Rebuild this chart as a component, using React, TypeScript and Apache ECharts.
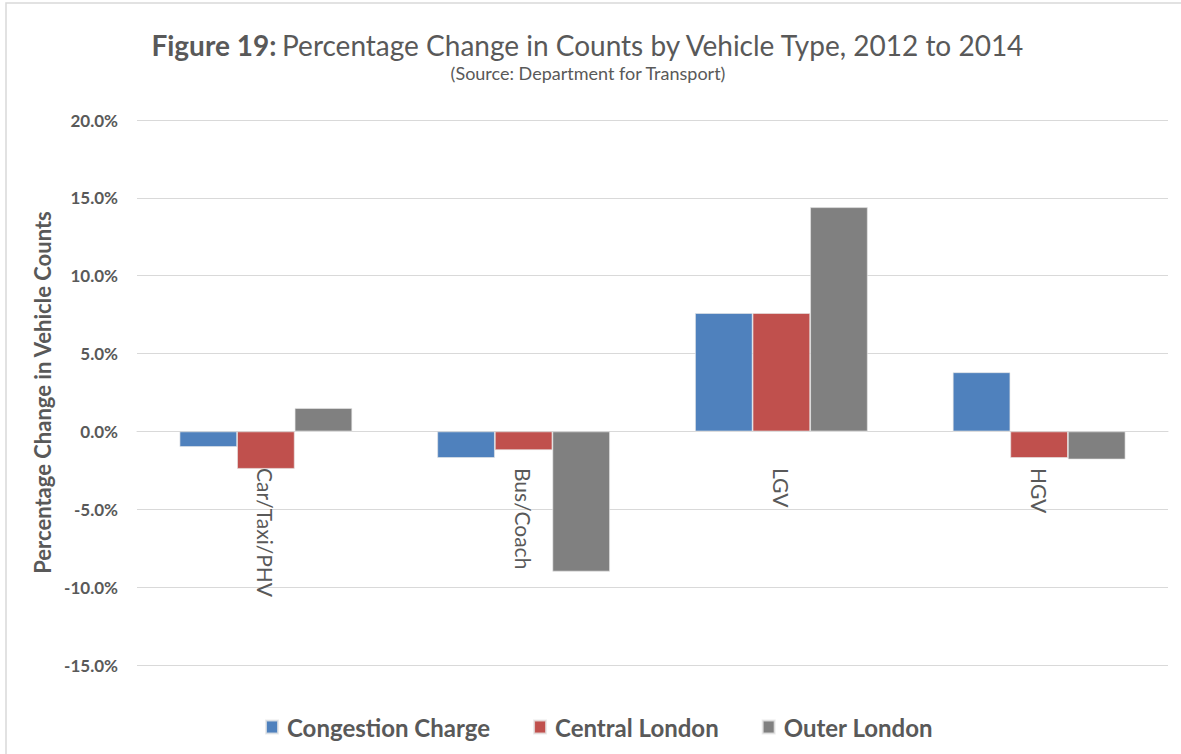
import React, { useEffect, useRef } from "react";
import * as echarts from "echarts";

const categories = ["Car/Taxi/PHV", "Bus/Coach", "LGV", "HGV"];
const congestionCharge = [-1.0, -1.7, 7.6, 3.8];
const centralLondon = [-2.4, -1.2, 7.6, -1.7];
const outerLondon = [1.5, -9.0, 14.4, -1.8];
const seriesNames = ["Congestion Charge", "Central London", "Outer London"];
const colors = ["#4F81BD", "#C0504D", "#808080"];

const FONT = "Lato, 'Open Sans', sans-serif";
const TXT = "#595959";

export default function App() {
  const ref = useRef<HTMLDivElement>(null);
  useEffect(() => {
    if (!ref.current) return;
    const chart = echarts.init(ref.current, undefined, { renderer: "svg" });
    const data = [congestionCharge, centralLondon, outerLondon];
    chart.setOption({
      animation: false,
      backgroundColor: "#ffffff",
      textStyle: { fontFamily: FONT },
      graphic: [
        {
          type: "rect",
          shape: { x: 6, y: 3, width: 1300, height: 900 },
          style: { fill: "none", stroke: "#d9d9d9", lineWidth: 1.5 },
          silent: true,
        },
      ],
      title: {
        text: "{b|Figure 19:} {n|Percentage Change in Counts by Vehicle Type, 2012 to 2014}",
        subtext: "(Source: Department for Transport)",
        left: 583,
        textAlign: "center",
        top: 26,
        itemGap: 5,
        textStyle: {
          rich: {
            b: { fontFamily: FONT, fontWeight: "bold", fontSize: 28, color: TXT },
            n: { fontFamily: FONT, fontWeight: "normal", fontSize: 28, color: TXT },
          },
        },
        subtextStyle: { fontFamily: FONT, fontSize: 18, color: TXT },
      },
      legend: {
        data: seriesNames,
        bottom: 10,
        left: 260,
        itemWidth: 12,
        itemHeight: 13,
        itemGap: 43,
        icon: "rect",
        textStyle: { fontFamily: FONT, fontWeight: "bold", fontSize: 24, color: TXT, padding: [0, 0, 0, 4] },
      },
      grid: { left: 137, right: 13, top: 120, bottom: 89, outerBoundsMode: "none" },
      xAxis: {
        type: "category",
        data: categories,
        axisLine: { onZero: true, lineStyle: { color: "#d9d9d9", width: 1 } },
        axisTick: { show: false },
        axisLabel: {
          rotate: -90,
          margin: -197,
          fontFamily: FONT,
          fontSize: 21,
          color: TXT,
        },
      },
      yAxis: {
        type: "value",
        min: -15,
        max: 20,
        interval: 5,
        name: "Percentage Change in Vehicle Counts",
        nameLocation: "middle",
        nameGap: 82,
        nameTextStyle: { fontFamily: FONT, fontWeight: "bold", fontSize: 22, color: TXT },
        axisLine: { show: false },
        axisTick: { show: false },
        splitLine: { lineStyle: { color: "#d9d9d9", width: 1 } },
        axisLabel: {
          margin: 19,
          fontFamily: FONT,
          fontWeight: "bold",
          fontSize: 17,
          color: TXT,
          formatter: (v: number) => v.toFixed(1) + "%",
        },
      },
      series: seriesNames.map((name, i) => ({
        name,
        type: "bar",
        data: data[i],
        barGap: "0%",
        barCategoryGap: "33%",
        itemStyle: { color: colors[i], borderColor: "rgba(230,230,230,0.8)", borderWidth: 0.8 },
      })),
    });
    return () => chart.dispose();
  }, []);
  return (
    <div
      ref={ref}
      style={{ position: "absolute", left: 0, top: 0, width: 1181, height: 754 }}
    />
  );
}
